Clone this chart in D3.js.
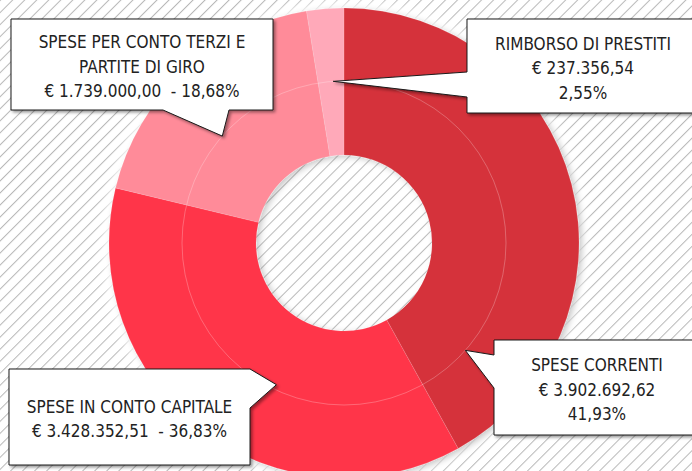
<!DOCTYPE html>
<html>
<head>
<meta charset="utf-8">
<script src="https://cdn.jsdelivr.net/npm/d3@7"></script>
<style>
  html, body { margin: 0; padding: 0; background: #fff; }
  svg { display: block; }
  .lbl text { font-family: "Liberation Sans Narrow", "DejaVu Sans Condensed", "Roboto Condensed", Roboto, sans-serif; font-size: 17px; fill: #222; white-space: pre; }
</style>
</head>
<body>
<script>
var w = 692;
var h = 471;

// data
var categories = ["SPESE CORRENTI", "SPESE IN CONTO CAPITALE", "SPESE PER CONTO TERZI E PARTITE DI GIRO", "RIMBORSO DI PRESTITI"];
var amounts = [3902692.62, 3428352.51, 1739000.00, 237356.54];
var amountLabels = ["€ 3.902.692,62", "€ 3.428.352,51", "€ 1.739.000,00", "€ 237.356,54"];
var percentLabels = ["41,93%", "36,83%", "18,68%", "2,55%"];
var colors = ["#d5323b", "#ff3449", "#ff8b99", "#ffa9b9"];

// label text lines, built from the arrays above
var labelLines = [
    [categories[0], amountLabels[0], percentLabels[0]],
    [categories[1], amountLabels[1] + "  - " + percentLabels[1]],
    ["SPESE PER CONTO TERZI E", "PARTITE DI GIRO", amountLabels[2] + "  - " + percentLabels[2]],
    [categories[3], amountLabels[3], percentLabels[3]]
];

// callout boxes (layout only): box, side of the pointer, pointer base, tip angle in degrees
var layout = [
    {x: 494, y: 340, w: 206, h: 95, side: "left", b0: 355, b1: 388, tip: 131.5},
    {x: 9, y: 369, w: 241, h: 96, side: "right", b0: 369, b1: 408, tip: 205.5, tipR: 157},
    {x: 11, y: 19, w: 262, h: 91, side: "bottom", b0: 163, b1: 229, tip: 311.3},
    {x: 467, y: 19, w: 232, h: 94, side: "left", b0: 72, b1: 97, tip: 356.2}
];

var cx = 344, cy = 243;
var rInner = 88, rMid = 162, rOuter = 235;

var svg = d3.select("body").append("svg")
    .attr("width", w)
    .attr("height", h);

var defs = svg.append("defs");

var step = 8.5;
var pat = defs.append("pattern")
    .attr("id", "hatch")
    .attr("patternUnits", "userSpaceOnUse")
    .attr("width", step)
    .attr("height", step)
    .attr("patternTransform", "rotate(45)");
pat.append("rect").attr("width", step).attr("height", step).attr("fill", "#fff");
pat.append("line")
    .attr("x1", 0.5).attr("y1", 0).attr("x2", 0.5).attr("y2", step)
    .attr("stroke", "#b8b8b8").attr("stroke-width", 1);

var glow = defs.append("filter").attr("id", "glow")
    .attr("x", "-20%").attr("y", "-20%").attr("width", "140%").attr("height", "140%");
glow.append("feGaussianBlur").attr("stdDeviation", 6);

var pieShadow = defs.append("filter").attr("id", "pieShadow")
    .attr("x", "-20%").attr("y", "-20%").attr("width", "140%").attr("height", "140%");
pieShadow.append("feDropShadow")
    .attr("dx", 3).attr("dy", 2).attr("stdDeviation", 3)
    .attr("flood-color", "#000").attr("flood-opacity", 0.22);

var boxShadow = defs.append("filter").attr("id", "boxShadow")
    .attr("x", "-10%").attr("y", "-10%").attr("width", "130%").attr("height", "130%");
boxShadow.append("feDropShadow")
    .attr("dx", 2).attr("dy", 2).attr("stdDeviation", 1.5)
    .attr("flood-color", "#000").attr("flood-opacity", 0.4);

svg.append("rect")
    .attr("width", w).attr("height", h)
    .attr("fill", "url(#hatch)");

var g = svg.append("g")
    .attr("transform", "translate(" + cx + "," + cy + ")");

// soft white halo around the donut (the hole keeps its hatch)
g.append("path")
    .attr("d", d3.arc().innerRadius(rInner + 6).outerRadius(rOuter + 5).startAngle(0).endAngle(2 * Math.PI)())
    .attr("fill", "#fff")
    .attr("filter", "url(#glow)");

var color = d3.scaleOrdinal().domain(categories).range(colors);

var pie = d3.pie()
    .sort(null)
    .value(function (d) { return d; });

var arcs = pie(amounts);

var arc = d3.arc()
    .innerRadius(rInner)
    .outerRadius(rOuter);

var donut = g.append("g").attr("filter", "url(#pieShadow)");

donut.selectAll(".slice")
    .data(arcs)
    .enter().append("path")
    .attr("class", "slice")
    .attr("d", arc)
    .attr("fill", function (d, i) { return color(categories[i]); })
    .attr("stroke", "rgba(255,255,255,0.12)")
    .attr("stroke-width", 1);

// thin ring between inner and outer band
g.append("circle")
    .attr("r", rMid)
    .attr("fill", "none")
    .attr("stroke", "rgba(255,255,255,0.25)")
    .attr("stroke-width", 1);

// callouts
function tipPoint(L) {
    var a = L.tip * Math.PI / 180;
    var r = L.tipR || rMid;
    return [cx + r * Math.sin(a), cy - r * Math.cos(a)];
}

function calloutPath(L) {
    var t = tipPoint(L);
    var x0 = L.x, y0 = L.y, x1 = L.x + L.w, y1 = L.y + L.h;
    var p = d3.path();
    p.moveTo(x0, y0);
    p.lineTo(x1, y0);
    if (L.side === "right") {
        p.lineTo(x1, L.b0);
        p.lineTo(t[0], t[1]);
        p.lineTo(x1, L.b1);
    }
    p.lineTo(x1, y1);
    if (L.side === "bottom") {
        p.lineTo(L.b1, y1);
        p.lineTo(t[0], t[1]);
        p.lineTo(L.b0, y1);
    }
    p.lineTo(x0, y1);
    if (L.side === "left") {
        p.lineTo(x0, L.b1);
        p.lineTo(t[0], t[1]);
        p.lineTo(x0, L.b0);
    }
    p.closePath();
    return p.toString();
}

var lineH = 24.5;

var lbl = svg.selectAll(".lbl")
    .data(layout)
    .enter().append("g")
    .attr("class", "lbl");

lbl.append("path")
    .attr("d", calloutPath)
    .attr("fill", "#fff")
    .attr("stroke", "#1a1a1a")
    .attr("stroke-width", 1)
    .attr("filter", "url(#boxShadow)");

lbl.each(function (L, i) {
    var lines = labelLines[i];
    var n = lines.length;
    var midY = L.y + L.h / 2 + 2;
    d3.select(this).selectAll("text")
        .data(lines)
        .enter().append("text")
        .attr("x", L.x + L.w / 2)
        .attr("y", function (s, k) { return midY + (k - (n - 1) / 2) * lineH + 6; })
        .attr("text-anchor", "middle")
        .text(function (s) { return s; });
});
</script>
</body>
</html>
